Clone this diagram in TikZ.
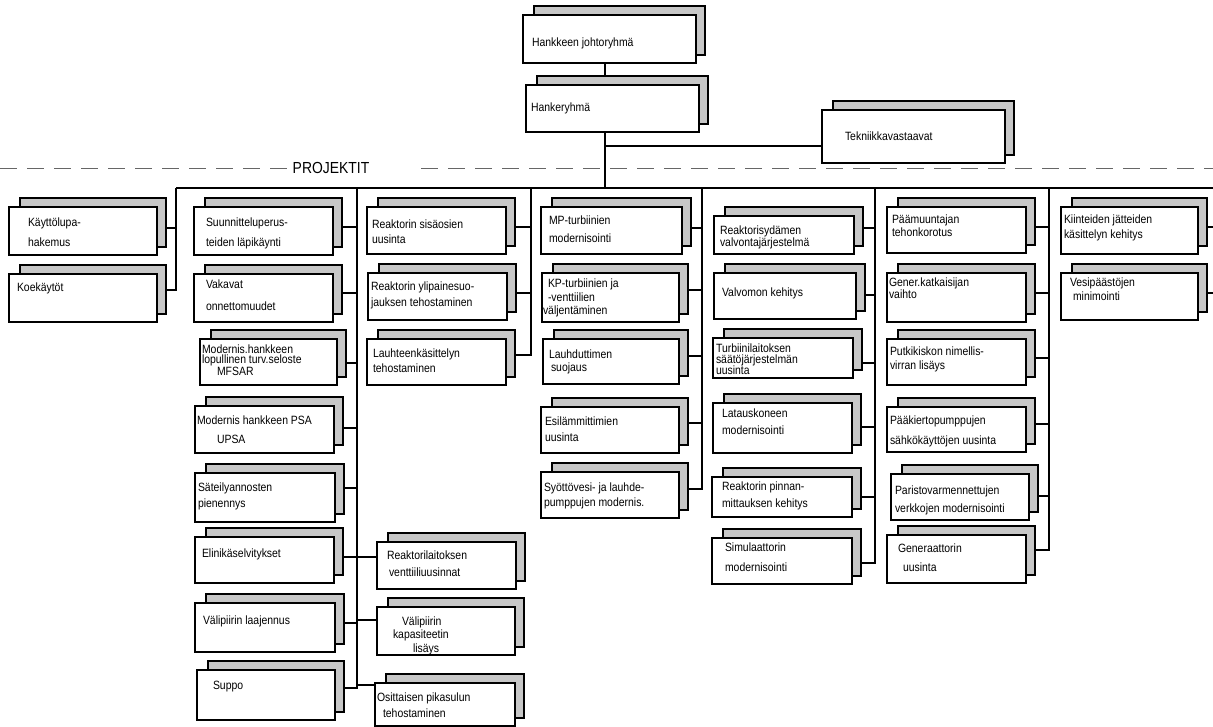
\documentclass[tikz,border=0pt]{standalone}
\usepackage{fontspec}
\setmainfont{Liberation Sans}[FakeStretch=0.87]
\usetikzlibrary{backgrounds}
\tikzset{
  pbox/.style={draw=black, line width=1.4pt, fill=white, inner sep=0pt, outer sep=0pt},
  shadowbox/.style={draw=black, line width=1.1pt, fill=black!22},
  ptext/.style={inner sep=0pt, outer sep=0pt, align=left, font=\fontsize{12}{13}\selectfont},
  conn/.style={draw=black, line width=1.4pt},
  dashline/.style={draw=black!60, line width=0.9pt, dash pattern=on 17pt off 10pt},
}
% name, left, top, right, bottom, text x, baseline y of the LAST text line, text, connector y
\newcommand{\prjbox}[9]{%
  \draw[shadowbox] (#2+11,#3-9) rectangle (#4+9,#5-8);
  \node[pbox, anchor=north west, minimum width={(#4-#2)*1pt}, minimum height={(#5-#3)*1pt}] (#1) at (#2,#3) {};
  \node[ptext, anchor=base west] (#1t) at (#6,#7) {#8};
  \pgfmathsetmacro\tmpsh{(#3+#5)/2-#9}
  \coordinate (#1e) at ([yshift=\tmpsh pt]#1.east);
  \coordinate (#1w) at ([yshift=\tmpsh pt]#1.west);
}
\begin{document}
\begin{tikzpicture}[x=1pt,y=-1pt]
\useasboundingbox (0,0) rectangle (1213,727);
% top
\prjbox{hj}{523}{15}{696}{63}{532}{47}{Hankkeen johtoryhmä}{39}
\prjbox{hr}{526}{85}{699}{132}{531}{112}{Hankeryhmä}{108}
\prjbox{tk}{822}{110}{1005}{163}{845}{141}{Tekniikkavastaavat}{146}
% column 1
\prjbox{c1a}{9}{207}{157}{255}{28}{247}{Käyttölupa-\\[7pt]hakemus}{228}
\prjbox{c1b}{9}{274}{157}{322}{17}{292}{Koekäytöt}{290}
% column 2
\prjbox{c2a}{194}{207}{333}{255}{206}{247}{Suunnitteluperus-\\[7pt]teiden läpikäynti}{227}
\prjbox{c2b}{194}{274}{333}{322}{206}{311}{Vakavat\\[9pt]onnettomuudet}{293}
\prjbox{c2c}{200}{339}{337}{385}{202}{375}{Modernis.hankkeen\\[-3pt]lopullinen turv.seloste\\[-1pt]\hspace*{15pt}MFSAR}{363}
\prjbox{c2d}{195}{406}{334}{453}{197}{443}{Modernis hankkeen PSA\\[6pt]\hspace*{20pt}UPSA}{428}
\prjbox{c2e}{195}{473}{335}{522}{198}{507}{Säteilyannosten\\[3pt]pienennys}{488}
\prjbox{c2f}{195}{537}{334}{583}{202}{557}{Elinikäselvitykset}{557}
\prjbox{c2g}{195}{603}{335}{652}{203}{624}{Välipiirin laajennus}{623}
\prjbox{c2h}{197}{670}{335}{720}{213}{689}{Suppo}{688}
% column 3
\prjbox{c3a}{367}{207}{506}{254}{372}{244}{Reaktorin sisäosien\\[2pt]uusinta}{227}
\prjbox{c3b}{368}{273}{507}{320}{371}{307}{Reaktorin ylipainesuo-\\[3pt]jauksen tehostaminen}{293}
\prjbox{c3c}{367}{339}{506}{385}{373}{373}{Lauhteenkäsittelyn\\[3pt]tehostaminen}{355}
\prjbox{c3d}{377}{542}{516}{589}{387}{576}{Reaktorilaitoksen\\[4pt]\hspace*{2pt}venttiiliuusinnat}{557}
\prjbox{c3e}{377}{607}{515}{655}{393}{652}{\hspace*{9pt}Välipiirin\\[0pt]kapasiteetin\\[1pt]\hspace*{20pt}lisäys}{620}
\prjbox{c3f}{375}{683}{515}{726}{377}{717}{Osittaisen pikasulun\\[3pt]\hspace*{6pt}tehostaminen}{685}
% column 4
\prjbox{c4a}{541}{207}{682}{254}{549}{243}{MP-turbiinien\\[5pt]modernisointi}{228}
\prjbox{c4b}{542}{273}{679}{322}{548}{315}{KP-turbiinien ja\\[1pt]-venttiilien\\[0pt]\hspace*{-5pt}väljentäminen}{290}
\prjbox{c4c}{543}{339}{679}{384}{549}{371}{Lauhduttimen\\[0pt]\hspace*{2pt}suojaus}{356}
\prjbox{c4d}{541}{407}{679}{453}{545}{441}{Esilämmittimien\\[3pt]uusinta}{423}
\prjbox{c4e}{541}{472}{679}{518}{544}{506}{Syöttövesi- ja lauhde-\\[2pt]pumppujen modernis.}{489}
% column 5
\prjbox{c5a}{714}{216}{854}{254}{720}{247}{Reaktorisydämen\\[-1pt]valvontajärjestelmä}{228}
\prjbox{c5b}{714}{273}{856}{319}{722}{297}{Valvomon kehitys}{295}
\prjbox{c5c}{713}{338}{853}{378}{716}{374}{Turbiinilaitoksen\\[-2pt]säätöjärjestelmän\\[-2pt]uusinta}{363}
\prjbox{c5d}{713}{403}{852}{453}{722}{434}{Latauskoneen\\[4pt]modernisointi}{427}
\prjbox{c5e}{712}{477}{852}{517}{722}{507}{Reaktorin pinnan-\\[4pt]mittauksen kehitys}{497}
\prjbox{c5f}{712}{538}{852}{584}{725}{571}{Simulaattorin\\[7pt]modernisointi}{563}
% column 6
\prjbox{c6a}{887}{207}{1026}{253}{892}{237}{Päämuuntajan\\[0pt]tehonkorotus}{227}
\prjbox{c6b}{887}{273}{1026}{322}{889}{299}{Gener.katkaisijan\\[-1pt]vaihto}{293}
\prjbox{c6c}{887}{339}{1026}{385}{890}{370}{Putkikiskon nimellis-\\[1pt]virran lisäys}{358}
\prjbox{c6d}{887}{407}{1026}{452}{890}{444}{Pääkiertopumppujen\\[7pt]sähkökäyttöjen uusinta}{424}
\prjbox{c6e}{891}{474}{1029}{520}{895}{512}{Paristovarmennettujen\\[5pt]verkkojen modernisointi}{496}
\prjbox{c6f}{887}{535}{1026}{583}{898}{571}{Generaattorin\\[6pt]\hspace*{5pt}uusinta}{550}
% column 7
\prjbox{c7a}{1061}{207}{1198}{254}{1064}{239}{Kiinteiden jätteiden\\[2pt]käsittelyn kehitys}{227}
\prjbox{c7b}{1061}{273}{1198}{320}{1070}{301}{Vesipäästöjen\\[1pt]\hspace*{3pt}minimointi}{293}
% dashed line with title
\node[inner sep=0pt, font=\fontsize{16}{16}\selectfont] (proj) at (331,168) {PROJEKTIT};
\coordinate (dl) at (0,168);
\coordinate (dr) at (1213,168);
\draw[dashline] (dl) -- ([xshift=-6pt]proj.west);
\draw[dashline] ([xshift=52pt]proj.east) -- (dr);
% connectors
\begin{scope}[on background layer]
\fill[white] (0,0) rectangle (1213,727);
\coordinate (stem) at (605,188);
\coordinate (b1) at (176,188);
\coordinate (b2) at (357,188);
\coordinate (b3) at (531,188);
\coordinate (b4) at (702,188);
\coordinate (b5) at (875,188);
\coordinate (b6) at (1049,188);
\coordinate (bR) at (1213,188);
\draw[conn] (stem |- hj.south) -- (stem |- hr.north);
\draw[conn] (stem |- hr.south) -- (stem);
\draw[conn] (tkw -| stem) -- (tkw);
\draw[conn] (b1) -- (bR);
\draw[conn] (b1) |- (c1be);
\draw[conn] (c1ae) -- (c1ae -| b1);
\draw[conn] (b2) |- (c2he);
\foreach \n in {c2a,c2b,c2c,c2d,c2e,c2f,c2g}{\draw[conn] (\n e) -- (\n e -| b2);}
\foreach \n in {c3d,c3e,c3f}{\draw[conn] (\n w) -- (\n w -| b2);}
\draw[conn] (b3) |- (c3ce);
\foreach \n in {c3a,c3b}{\draw[conn] (\n e) -- (\n e -| b3);}
\draw[conn] (b4) |- (c4ee);
\foreach \n in {c4a,c4b,c4c,c4d}{\draw[conn] (\n e) -- (\n e -| b4);}
\draw[conn] (b5) |- (c5fe);
\foreach \n in {c5a,c5b,c5c,c5d,c5e}{\draw[conn] (\n e) -- (\n e -| b5);}
\draw[conn] (b6) |- (c6fe);
\foreach \n in {c6a,c6b,c6c,c6d,c6e}{\draw[conn] (\n e) -- (\n e -| b6);}
\foreach \n in {c7a,c7b}{\draw[conn] (\n e) -- (\n e -| bR);}
\end{scope}
\end{tikzpicture}
\end{document}
